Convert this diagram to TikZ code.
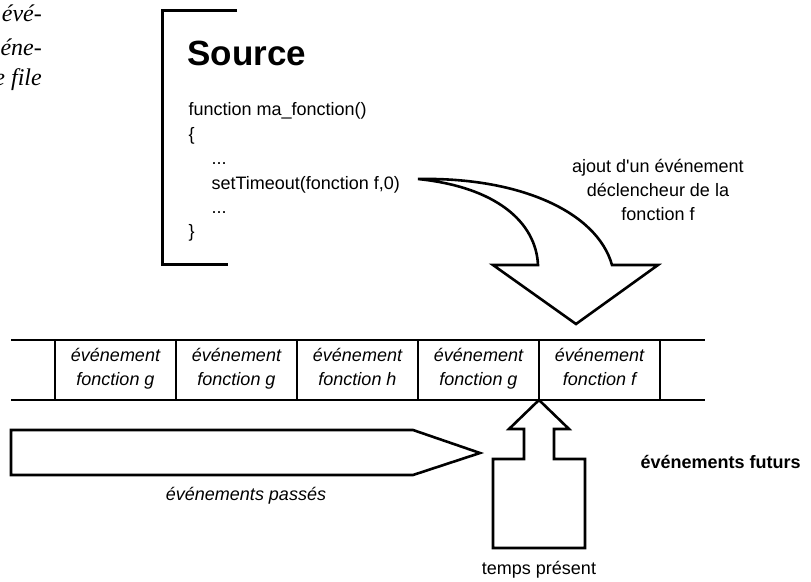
\documentclass[tikz,border=0pt]{standalone}
\usepackage{fontspec}
\setmainfont{Liberation Sans}
\newfontfamily\texteserif{Liberation Serif}
\newcommand{\taille}{\fontsize{18}{24}\selectfont}
\tikzset{
  fleche/.style={line width=2.6pt, line join=miter, fill=white},
  crochet/.style={line width=3pt},
  trait/.style={line width=1.2pt},
  cellule/.style={font=\taille\itshape, align=center},
  code/.style={anchor=base west},
  marge/.style={anchor=east, inner sep=0pt, font=\texteserif\itshape\fontsize{24}{33}\selectfont},
}
\newcommand{\evt}[1]{\strut événement\\\strut fonction #1}

\begin{document}
\begin{tikzpicture}[x=1pt, y=-1pt, font=\taille]
    \useasboundingbox (0,0) rectangle (811,581);

    % fin du paragraphe voisin, coupee au bord
    \node[marge] (m1) at (42,13) {évé-};
    \node[marge] (m2) at (42,47) {éne-};
    \node[marge] (m3) at (42,80) {une file};

    % le code source
    \draw[crochet] (237,10) -- (162,10) -- (162,264) -- (228,264);
    \node[code, font=\bfseries\fontsize{35}{40}\selectfont] (src) at (184,65) {Source};
    \node[code] (l1) at (185,115) {function ma\_fonction()};
    \node[code] (l2) at (185,140) {\{};
    \node[code] (l3) at (208,164) {...};
    \node[code] (l4) at (208,189) {setTimeout(fonction f,0)};
    \node[code] (l5) at (208,213) {...};
    \node[code] (l6) at (185,237) {\}};

    % fleche courbe vers la file
    \coordinate (queue) at (418,179);
    \draw[fleche] (queue) .. controls (520,177) and (597,212) .. (612,265)
        -- (658,265) -- (576,324) -- (493,265) -- (538,265)
        .. controls (536,222) and (496,187) .. (queue) -- cycle;
    \node[align=center] (ajout) at (658,190)
        {ajout d\textquotesingle un événement\\déclencheur de la\\fonction f};

    % la file des evenements
    \draw[trait] (11,340) -- (705,340);
    \draw[trait] (11,400) -- (705,400);
    \foreach \k in {0,...,5}
        \draw[trait] (55+121*\k,340) -- (55+121*\k,400);
    \foreach \f [count=\i] in {g,g,h,g,f}
        \node[cellule] (c\i) at (115.5+121*\i-121,369) {\evt{\f}};

    % passe, present, futur
    \draw[fleche] (11,430) -- (413,430) -- (480,453) -- (413,475) -- (11,475) -- cycle;
    \node[font=\taille\itshape] (passe) at (246,496) {événements passés};

    \coordinate (present) at (539,400);
    \draw[fleche] (present) -- (569,429) -- (554,429) -- (554,459) -- (585,459)
        -- (585,548) -- (493,548) -- (493,459) -- (524,459) -- (524,429)
        -- (509,429) -- cycle;
    \node (temps) at (539,570) {temps présent};

    \node[anchor=west, font=\taille\bfseries] (futur) at (637,462) {événements futurs};
\end{tikzpicture}
\end{document}
